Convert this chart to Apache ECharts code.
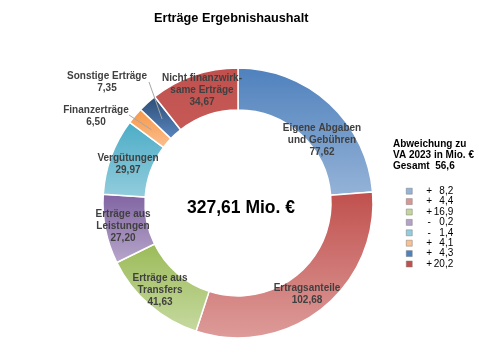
<!DOCTYPE html>
<html><head><meta charset="utf-8">
<script src="https://cdn.jsdelivr.net/npm/echarts@6/dist/echarts.min.js"></script>
<style>html,body{margin:0;padding:0;background:#fff}#c{width:479px;height:360px}</style>
</head><body><div id="c"></div>
<script>
const categories = ["Eigene Abgaben\nund Gebühren","Ertragsanteile","Erträge aus\nTransfers","Erträge aus\nLeistungen","Vergütungen","Finanzerträge","Sonstige Erträge","Nicht finanzwirk-\nsame Erträge"];
const values = [77.62,102.68,41.63,27.20,29.97,6.50,7.35,34.67];
const valueLabels = ["77,62","102,68","41,63","27,20","29,97","6,50","7,35","34,67"];
const devSigns = ["+","+","+","-","-","+","+","+"];
const devValues = ["8,2","4,4","16,9","0,2","1,4","4,1","4,3","20,2"];
const totalLabel = "327,61 Mio. €";
const gradTop = ["#4f81bd","#c0504d","#9bbb59","#8064a2","#4bacc6","#f79646","#2c4d75","#c0504d"];
const gradBottom = ["#95b3d7","#dd9c9a","#c6d9a0","#b7a6ca","#93cddd","#fac090","#5a86c0","#c65a57"];
const legendColors = ["#95b3d7","#d99694","#c3d69b","#b3a2c7","#93cddd","#fac090","#4f81bd","#c0504d"];
const labelPos = [[322,140],[307,294],[160,290],[123,226],[128,164],[96,116],[107,82],[202,90]];
const leaderStart = [null,null,null,null,null,[129,115],[149,82],null];

const CX=238, CY=203, R0=93, R1=135;
const total = values.reduce((a,b)=>a+b,0);
function midPoint(i){
  let before=0; for(let k=0;k<i;k++) before+=values[k];
  const a=(before+values[i]/2)/total*2*Math.PI;
  const r=(R0+R1)/2-(R1-R0)*0.02;
  return [CX+r*Math.sin(a), CY-r*Math.cos(a)];
}
const chart = echarts.init(document.getElementById('c'));
const data = categories.map((n,i)=>({
  name:n, value:values[i],
  itemStyle:{color:{type:'linear',x:0,y:0,x2:0,y2:1,colorStops:[{offset:0,color:gradTop[i]},{offset:1,color:gradBottom[i]}]}}
}));
const leaders = [];
leaderStart.forEach((s,i)=>{ if(s){ const m=midPoint(i); leaders.push({type:'polyline',silent:true,z:10,shape:{points:[s,m]},style:{stroke:'#a6a6a6',lineWidth:1,fill:null}}); }});
chart.setOption({
  animation:false,
  title:[
    {text:'Erträge Ergebnishaushalt',left:149,top:7,textStyle:{fontFamily:'Liberation Sans',fontSize:12.7,fontWeight:'bold',color:'#000'}},
    {text:'Abweichung zu\nVA 2023 in Mio. €\nGesamt  56,6',left:388,top:134,textStyle:{fontFamily:'Liberation Sans',fontSize:10,fontWeight:'bold',color:'#000',lineHeight:11}},
    {text:totalLabel,left:236,top:203,textAlign:'center',textVerticalAlign:'middle',textStyle:{fontFamily:'Liberation Sans',fontSize:17.5,fontWeight:'bold',color:'#000'}}
  ],
  graphic: leaders,
  legend:{
    orient:'vertical',left:406,top:186,itemWidth:6,itemHeight:6,itemGap:0,icon:'rect',padding:0,
    data:categories.map((n,i)=>({name:n,itemStyle:{color:legendColors[i],borderColor:'#7f7f7f',borderWidth:0.5}})),
    formatter:(n)=>{const i=categories.indexOf(n);return '{s|'+devSigns[i]+'}{v|'+devValues[i]+'}';},
    textStyle:{fontFamily:'Liberation Sans',fontSize:10,color:'#000',lineHeight:10.4,padding:[0,0,0,8],
      rich:{s:{width:8,align:'center',fontSize:10,lineHeight:10.4,fontFamily:'Liberation Sans'},v:{width:20,align:'right',fontSize:10,lineHeight:10.4,fontFamily:'Liberation Sans'}}},
    selectedMode:false
  },
  series:[{
    type:'pie',center:[CX,CY],radius:[R0,R1],startAngle:90,clockwise:true,
    itemStyle:{borderColor:'#fff',borderWidth:1.5},
    label:{position:'inside',formatter:(p)=>p.name+'\n'+valueLabels[p.dataIndex],fontFamily:'Liberation Sans',fontSize:10,fontWeight:'bold',color:'#404040',lineHeight:12,textBorderWidth:0},
    labelLine:{show:false},
    labelLayout:(p)=>{
      const pos=labelPos[p.dataIndex];
      return {x:pos[0],y:pos[1],align:'center',verticalAlign:'middle'};
    },
    data:data
  }]
});
</script></body></html>
